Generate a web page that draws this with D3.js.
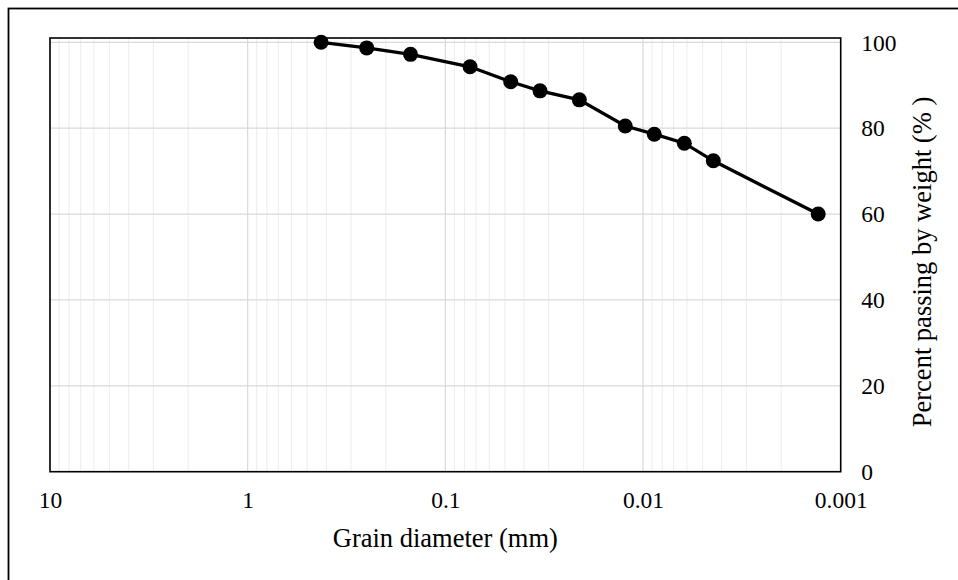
<!DOCTYPE html>
<html><head><meta charset="utf-8">
<script src="https://cdn.jsdelivr.net/npm/d3@7"></script>
<style>body{margin:0;background:#fff;} svg{display:block;}</style>
</head><body>
<script>
const diameters = [0.425, 0.25, 0.15, 0.075, 0.0467, 0.0332, 0.021, 0.0123, 0.00877, 0.00618, 0.00441, 0.0013];
const percentPassing = [100, 98.7, 97.2, 94.3, 90.8, 88.7, 86.6, 80.5, 78.6, 76.5, 72.4, 60.0];
const xTicks = [10, 1, 0.1, 0.01, 0.001];
const xTickLabels = ["10", "1", "0.1", "0.01", "0.001"];
const yTicks = [0, 20, 40, 60, 80, 100];

(function () {
const W = 958, H = 580;
const svg = d3.select("body").append("svg").attr("width", W).attr("height", H);
const font = "'Liberation Serif', 'Times New Roman', serif";

const pL = 50, pR = 840.7, pT = 38, pB = 471.7, y100 = 42.3;
const x = d3.scaleLog().domain([10, 0.001]).range([pL, pR]);
const y = d3.scaleLinear().domain([0, 100]).range([pB, y100]);

// outer frame
svg.append("rect").attr("x", 8.5).attr("y", 8.5).attr("width", 980).attr("height", 600)
  .attr("fill", "none").attr("stroke", "#000").attr("stroke-width", 1.8);

// minor vertical gridlines
const minor = [];
for (let e = -3; e < 1; e++) for (let m = 2; m <= 9; m++) minor.push(m * Math.pow(10, e));
svg.append("g").selectAll("line").data(minor).join("line")
  .attr("x1", d => x(d)).attr("x2", d => x(d)).attr("y1", pT).attr("y2", pB)
  .attr("stroke", "#efefef").attr("stroke-width", 1.2);
// major vertical gridlines
svg.append("g").selectAll("line").data(xTicks).join("line")
  .attr("x1", d => x(d)).attr("x2", d => x(d)).attr("y1", pT).attr("y2", pB)
  .attr("stroke", "#d9d9d9").attr("stroke-width", 1.2);
// horizontal gridlines
svg.append("g").selectAll("line").data(yTicks.filter(d => d > 0)).join("line")
  .attr("x1", pL).attr("x2", pR).attr("y1", d => y(d)).attr("y2", d => y(d))
  .attr("stroke", "#d9d9d9").attr("stroke-width", 1.2);

// plot frame
svg.append("rect").attr("x", pL).attr("y", pT).attr("width", pR - pL).attr("height", pB - pT)
  .attr("fill", "none").attr("stroke", "#000").attr("stroke-width", 1.6);

// axes (labels only)
const xAxis = d3.axisBottom(x).tickValues(xTicks).tickSize(0).tickPadding(0)
  .tickFormat((d, i) => xTickLabels[i]);
const gx = svg.append("g").attr("transform", `translate(0,${pB})`).call(xAxis);
gx.select(".domain").remove();
gx.selectAll("text").attr("font-family", font).attr("font-size", 23.5).attr("fill", "#000")
  .attr("dy", null).attr("y", 36.5);

const yAxis = d3.axisRight(y).tickValues(yTicks).tickSize(0).tickPadding(0);
const gy = svg.append("g").attr("transform", `translate(${pR},0)`).call(yAxis);
gy.select(".domain").remove();
gy.selectAll("text").attr("font-family", font).attr("font-size", 23.5).attr("fill", "#000")
  .attr("x", 20.5).attr("dy", "0.33em").attr("text-anchor", "start");

// line and points
const pts = diameters.map((d, i) => [d, percentPassing[i]]);
svg.append("path").datum(pts)
  .attr("d", d3.line().x(d => x(d[0])).y(d => y(d[1])))
  .attr("fill", "none").attr("stroke", "#000").attr("stroke-width", 3.3);
svg.append("g").selectAll("circle").data(pts).join("circle")
  .attr("cx", d => x(d[0])).attr("cy", d => y(d[1])).attr("r", 7.5).attr("fill", "#000");

// titles
svg.append("text").attr("x", (pL + pR) / 2).attr("y", 546.5).attr("text-anchor", "middle")
  .attr("font-family", font).attr("font-size", 26.5).text("Grain diameter (mm)");
svg.append("text").attr("transform", `translate(931,262) rotate(-90)`).attr("text-anchor", "middle")
  .attr("font-family", font).attr("font-size", 26.5).text("Percent passing by weight (% )");
})();
</script>
</body></html>
